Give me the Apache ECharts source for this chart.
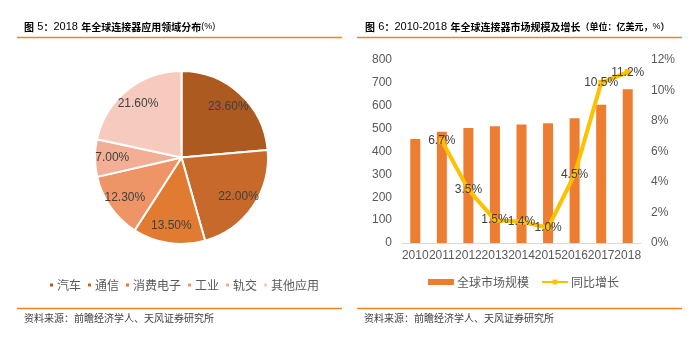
<!DOCTYPE html>
<html><head><meta charset="utf-8">
<script src="https://cdn.jsdelivr.net/npm/echarts@6/dist/echarts.min.js"></script>
<style>html,body{margin:0;padding:0;background:#fff}#c{width:697px;height:350px}</style>
</head><body><div id="c"></div>
<script>
const pieNames = ['汽车','通信','消费电子','工业','轨交','其他应用'];
const pieValues = [23.6, 22.0, 13.5, 12.3, 7.0, 21.6];
const pieColors = ['#AD5A21','#C7692A','#E07B31','#EE9466','#F2AF95','#F6CBBD'];
const years = ['2010','2011','2012','2013','2014','2015','2016','2017','2018'];
const marketSize = [455, 486, 503, 510, 518, 524, 545, 604, 672];
const growth = [null, 6.7, 3.5, 1.5, 1.4, 1.0, 4.5, 10.5, 11.2];
const leftTicks = [0,100,200,300,400,500,600,700,800];
const rightTicks = [0,2,4,6,8,10,12];

const FONT = '"Liberation Sans","Noto Sans CJK SC",sans-serif';
const chart = echarts.init(document.getElementById('c'), null, {renderer:'canvas'});

const titleRich = {
  k:{fontFamily:'"Noto Sans CJK SC"',fontWeight:'bold',fontSize:10,color:'#262626'},
  j:{fontFamily:'"Noto Sans CJK SC"',fontWeight:'bold',fontSize:9,color:'#262626'},
  n:{fontFamily:FONT,fontSize:11,color:'#2F5F9A'},
  s:{fontFamily:FONT,fontSize:9,color:'#2F5F9A'}
};

const option = {
  animation:false,
  textStyle:{fontFamily:FONT},
  graphic:[
    {type:'text',left:24,top:21,style:{rich:titleRich,text:'{k|图} {n|5}{k|：}{n|2018} {k|年全球连接器应用领域分布}{s|(%)}'}},
    {type:'text',left:365,top:21,style:{rich:titleRich,text:'{k|图} {n|6}{k|：}{n|2010-2018} {k|年全球连接器市场规模及增长}{j|（单位：亿美元，}{s|%}{j|）}'}},
    {type:'line',shape:{x1:17,y1:37.5,x2:342,y2:37.5},style:{stroke:'#F08224',lineWidth:1.5}},
    {type:'line',shape:{x1:357,y1:37.5,x2:682,y2:37.5},style:{stroke:'#F08224',lineWidth:1.5}},
    {type:'line',shape:{x1:17,y1:308.5,x2:342,y2:308.5},style:{stroke:'#F08224',lineWidth:1.5}},
    {type:'line',shape:{x1:357,y1:308.5,x2:682,y2:308.5},style:{stroke:'#F08224',lineWidth:1.5}},
    {type:'text',left:24,top:313,style:{text:'资料来源：前瞻经济学人、天风证券研究所',fontFamily:'"Noto Sans CJK SC"',fontSize:10,fill:'#404040'}},
    {type:'text',left:364,top:313,style:{text:'资料来源：前瞻经济学人、天风证券研究所',fontFamily:'"Noto Sans CJK SC"',fontSize:10,fill:'#404040'}}
  ],
  legend:[
    {data:pieNames, left:48, top:279, padding:0, itemWidth:5, itemHeight:5, itemGap:5, icon:'rect',
     textStyle:{fontFamily:'"Noto Sans CJK SC"',fontSize:12,color:'#595959',padding:[0,0,0,-2]}},
    {data:[{name:'全球市场规模',icon:'rect'},{name:'同比增长'}], left:428, top:276, padding:0, itemWidth:26, itemHeight:6, itemGap:12,
     textStyle:{fontFamily:'"Noto Sans CJK SC"',fontSize:12,color:'#595959',padding:[0,0,0,-2]}}
  ],
  grid:{left:402,right:56,top:60,bottom:107},
  xAxis:{type:'category',data:years,
    axisLine:{lineStyle:{color:'#D9D9D9'}},axisTick:{show:false},
    axisLabel:{color:'#595959',fontSize:12,margin:7,interval:0,fontFamily:FONT}},
  yAxis:[
    {type:'value',min:leftTicks[0],max:leftTicks[leftTicks.length-1],interval:100,
     axisLine:{show:false},axisTick:{show:false},splitLine:{show:false},
     axisLabel:{color:'#595959',fontSize:12,margin:10,fontFamily:FONT}},
    {type:'value',min:rightTicks[0],max:rightTicks[rightTicks.length-1],interval:2,
     axisLine:{show:false},axisTick:{show:false},splitLine:{show:false},
     axisLabel:{color:'#595959',fontSize:12,margin:10,formatter:'{value}%',fontFamily:FONT}}
  ],
  series:[
    {name:'main',type:'pie',center:[181.5,157.5],radius:[0,86.5],startAngle:90,clockwise:true,
     label:{show:false},labelLine:{show:false},emphasis:{disabled:true},
     itemStyle:{borderColor:'#fff',borderWidth:2},
     data:pieNames.map((n,i)=>({name:n,value:pieValues[i],itemStyle:{color:pieColors[i]}}))},
    {name:'labels',type:'pie',center:[181.5,157.5],radius:[46,86.5],startAngle:90,clockwise:true,silent:true,
     legendHoverLink:false,
     label:{show:true,position:'inside',color:'#404040',fontSize:12,fontFamily:FONT,
       formatter:p=>p.value.toFixed(2)+'%'},
     labelLine:{show:false},emphasis:{disabled:true},
     itemStyle:{color:'rgba(0,0,0,0)',borderWidth:0},
     data:pieNames.map((n,i)=>({name:n,value:pieValues[i],itemStyle:{color:'rgba(0,0,0,0)'}}))},
    {name:'全球市场规模',type:'bar',data:marketSize,barWidth:10,itemStyle:{color:'#ED7D31'},yAxisIndex:0},
    {name:'同比增长',type:'line',data:growth,yAxisIndex:1,symbol:'rect',symbolSize:6,
     lineStyle:{color:'#FFC000',width:4},itemStyle:{color:'#FFC000'},
     label:{show:true,position:'inside',color:'#404040',fontSize:12,fontFamily:FONT,formatter:p=>p.value.toFixed(1)+'%'}}
  ]
};
chart.setOption(option);
</script></body></html>
